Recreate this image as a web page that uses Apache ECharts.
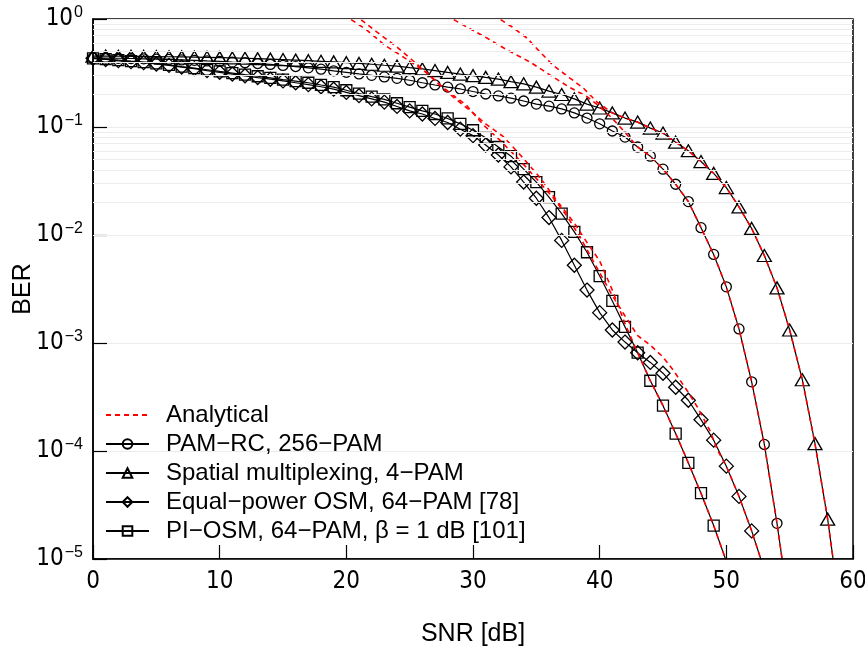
<!DOCTYPE html>
<html><head><meta charset="utf-8">
<script src="https://cdn.jsdelivr.net/npm/echarts@6/dist/echarts.min.js"></script>
<style>html,body{margin:0;padding:0;background:#fff}#c{width:865px;height:648px}</style>
</head><body><div id="c"></div><script>
// ---- Data (BER values; index = SNR in dB starting at 0) ----
var berPamRc = [0.437,0.435,0.433,0.431,0.428,0.425,0.422,0.418,0.414,0.409,
  0.405,0.399,0.394,0.387,0.380,0.372,0.363,0.353,0.343,0.331,
  0.321,0.310,0.301,0.291,0.282,0.271,0.257,0.245,0.234,0.225,
  0.213,0.202,0.194,0.185,0.174,0.163,0.156,0.147,0.135,0.121,
  0.107,0.0918,0.0807,0.0653,0.0537,0.0407,0.0295,0.0204,0.0117,0.00661,
  0.00331,0.00135,4.37e-4,1.15e-4,2.14e-5,3.2e-6];
var berSM = [0.454,0.453,0.452,0.451,0.450,0.449,0.447,0.446,0.444,0.442,
  0.439,0.436,0.433,0.429,0.425,0.421,0.416,0.411,0.406,0.401,
  0.394,0.388,0.381,0.373,0.366,0.355,0.345,0.333,0.320,0.309,
  0.299,0.288,0.278,0.263,0.251,0.234,0.215,0.200,0.182,0.163,
  0.150,0.135,0.121,0.111,0.0977,0.0879,0.0724,0.0603,0.0479,0.0372,
  0.0275,0.0182,0.0115,0.00646,0.00324,0.00132,4.57e-4,1.17e-4,2.34e-5,3.2e-6];
var berEqOSM = [0.432,0.422,0.412,0.403,0.394,0.383,0.372,0.359,0.347,0.333,
  0.321,0.309,0.298,0.287,0.277,0.267,0.257,0.247,0.236,0.224,
  0.209,0.195,0.182,0.170,0.155,0.141,0.132,0.120,0.110,0.0955,
  0.0832,0.0681,0.0550,0.0427,0.0309,0.0219,0.0145,0.00891,0.00525,0.00309,
  0.00191,0.00132,0.00102,8.13e-4,6.61e-4,5.25e-4,3.89e-4,2.95e-4,1.95e-4,1.26e-4,
  7.24e-5,3.80e-5,1.82e-5,7.9e-6];
var berPIOSM = [0.432,0.425,0.417,0.407,0.398,0.389,0.376,0.363,0.351,0.339,
  0.327,0.316,0.305,0.295,0.285,0.275,0.266,0.257,0.245,0.234,
  0.219,0.204,0.191,0.180,0.166,0.153,0.141,0.132,0.120,0.107,
  0.0933,0.0794,0.0653,0.0537,0.0407,0.0309,0.0224,0.0158,0.0107,0.00692,
  0.00417,0.00245,0.00141,8.13e-4,4.47e-4,2.63e-4,1.45e-4,7.76e-5,4.07e-5,2.04e-5,
  9.5e-6];

// Analytical curves (SNR dB, BER)
var anaPamRcSnr = [27.9,28.4,29.5,31.1,32.7,34.5,36.1,37.6,39.0,40,41,42,43,44,45,46,47,48,49,50,51,52,53,54,55];
var anaPamRcBer = [1.1,1.0,0.843,0.667,0.516,0.400,0.302,0.234,0.191,0.155,0.120,0.0891,0.0653,0.0537,0.0407,0.0295,0.0204,0.0117,0.00661,0.00331,0.00135,4.37e-4,1.15e-4,2.14e-5,3.2e-6];
var anaSMSnr = [31.6,32.1,33.1,34.25,35.3,36.3,37.65,38.7,39.8,41,42,43,44,45,46,47,48,49,50,51,52,53,54,55,56,57,58,59];
var anaSMBer = [1.1,1.0,0.843,0.667,0.494,0.375,0.284,0.230,0.170,0.135,0.121,0.111,0.0977,0.0879,0.0724,0.0603,0.0479,0.0372,0.0275,0.0182,0.0115,0.00646,0.00324,0.00132,4.57e-4,1.17e-4,2.34e-5,3.2e-6];
var anaEqOSMSnr = [19.8,20.3,21.6,23,24.6,26.4,27.6,29.5,30.8,32.1,33.7,35.1,36.5,37.5,38.5,40,41,42,43,44,45,45.8,46.9,47.7,48.7,49.3,50,51,52,53];
var anaEqOSMBer = [1.1,1.0,0.794,0.575,0.437,0.316,0.234,0.158,0.105,0.0759,0.0490,0.0324,0.0209,0.0145,0.00933,0.00447,0.00275,0.00178,0.00117,9.55e-4,7.41e-4,5.62e-4,3.63e-4,2.57e-4,1.55e-4,1.02e-4,7.24e-5,3.80e-5,1.82e-5,7.9e-6];
var anaPIOSMSnr = [20.6,21.1,22.4,24,25.4,26.8,28.4,30,31,32.4,33.9,35.3,36.6,38,39,40,41,42,43,44,45,46,47,48,49,50];
var anaPIOSMBer = [1.1,1.0,0.759,0.550,0.398,0.282,0.191,0.135,0.107,0.0813,0.0525,0.0339,0.0209,0.0129,0.00851,0.00575,0.00309,0.00151,8.13e-4,4.47e-4,2.63e-4,1.45e-4,7.76e-5,4.07e-5,2.04e-5,9.5e-6];

var xTicks = [0,10,20,30,40,50,60];
var decades = [1e-5,1e-4,1e-3,1e-2,1e-1];
var mantissas = [2,3,4,5,6,7,8,9];

var names = ['Analytical','PAM\u2212RC, 256\u2212PAM','Spatial multiplexing, 4\u2212PAM',
  'Equal\u2212power OSM, 64\u2212PAM [78]','PI\u2212OSM, 64\u2212PAM, \u03b2 = 1 dB [101]'];

// ---- Build ----
var FONT = "'Liberation Sans', Arial, Helvetica, sans-serif";
var NARROW = "'Liberation Sans Narrow', 'DejaVu Sans Condensed', 'Liberation Sans', sans-serif";
var minorVals = [];
decades.forEach(function(d){ mantissas.forEach(function(m){ minorVals.push(m*d); }); });

function pairs(vals){ return vals.map(function(v,i){ return [i, v]; }); }
function zip(xs, ys){ return xs.map(function(x,i){ return [x, ys[i]]; }); }
function sim(name, vals, symbol, size){
  return { name: name, type: 'line', data: pairs(vals), symbol: symbol, symbolSize: size,
    clip: true, z: 3, silent: true,
    lineStyle: { color: '#000', width: 1.2 },
    itemStyle: { color: 'rgba(255,255,255,0)', borderColor: '#000', borderWidth: 1.3 } };
}
function ana(xs, ys){
  return { name: names[0], type: 'line', data: zip(xs, ys), symbol: 'none', clip: true, z: 4, silent: true,
    itemStyle: { color: '#ff0000' },
    lineStyle: { color: '#ff0000', width: 1.6, type: [5, 4] } };
}

var series = [
  { name: 'grid', type: 'line', data: [], silent: true, z: 1,
    markLine: { silent: true, symbol: 'none', label: { show: false },
      lineStyle: { color: '#ececec', width: 1.2, type: 'solid' },
      data: minorVals.map(function(v){ return { yAxis: v }; }) } },
  ana(anaEqOSMSnr, anaEqOSMBer),
  sim(names[1], berPamRc, 'circle', 10),
  sim(names[2], berSM, 'triangle', [14, 12]),
  sim(names[3], berEqOSM, 'diamond', [14, 14]),
  sim(names[4], berPIOSM, 'rect', 11),
  ana(anaPamRcSnr, anaPamRcBer),
  ana(anaSMSnr, anaSMBer),
  ana(anaPIOSMSnr, anaPIOSMBer)
];

var legendData = names.map(function(n, i){
  return i === 0 ? { name: n, itemStyle: { opacity: 0 } } : { name: n };
});

var chart = echarts.init(document.getElementById('c'), null, { renderer: 'canvas' });
chart.setOption({
  animation: false,
  backgroundColor: '#fff',
  textStyle: { fontFamily: FONT, color: '#000' },
  grid: { left: 93, right: 12, top: 19, bottom: 89, show: true, borderColor: '#000', borderWidth: 1.5,
    backgroundColor: 'transparent', containLabel: false, outerBoundsMode: 'none' },
  legend: {
    data: legendData, orient: 'vertical', left: 100, top: 398, itemWidth: 43, itemHeight: 12, itemGap: 5,
    textStyle: { fontFamily: FONT, fontSize: 24, color: '#000', lineHeight: 20, padding: [0, 0, 0, 12] },
    selectedMode: false, backgroundColor: 'rgba(0,0,0,0)'
  },
  xAxis: {
    type: 'value', min: xTicks[0], max: xTicks[xTicks.length-1], interval: 10,
    name: 'SNR [dB]', nameLocation: 'middle', nameGap: 63, nameMoveOverlap: false,
    nameTextStyle: { fontFamily: FONT, fontSize: 25, color: '#000' },
    axisLine: { show: true, lineStyle: { color: '#000', width: 1.5 } },
    axisTick: { show: true, inside: true, length: 14, lineStyle: { color: '#000', width: 1.2 } },
    axisLabel: { fontFamily: NARROW, fontSize: 24, color: '#000', margin: 11 },
    splitLine: { show: false }
  },
  yAxis: {
    type: 'log', logBase: 10, min: 1e-5, max: 1, splitNumber: 5,
    name: 'BER', nameLocation: 'middle', nameGap: 57, nameRotate: 90, nameMoveOverlap: false,
    nameTextStyle: { fontFamily: FONT, fontSize: 25, color: '#000' },
    axisLine: { show: true, lineStyle: { color: '#000', width: 1.5 } },
    axisTick: { show: true, inside: true, length: 14, lineStyle: { color: '#000', width: 1.2 } },
    splitLine: { show: true, lineStyle: { color: '#ececec', width: 1.2 } },
    axisLabel: {
      margin: 10, fontFamily: FONT,
      formatter: function(v){
        var e = Math.round(Math.log(v) / Math.LN10);
        var s = e === 0 ? '0' : ('\u2212' + (-e));
        return '{b|10}{s|' + s + '}';
      },
      rich: {
        b: { fontFamily: NARROW, fontSize: 24, color: '#000' },
        s: { fontFamily: FONT, fontSize: 16, color: '#000', padding: [0, 0, 12, 1] }
      }
    }
  },
  series: series
});
</script></body></html>
